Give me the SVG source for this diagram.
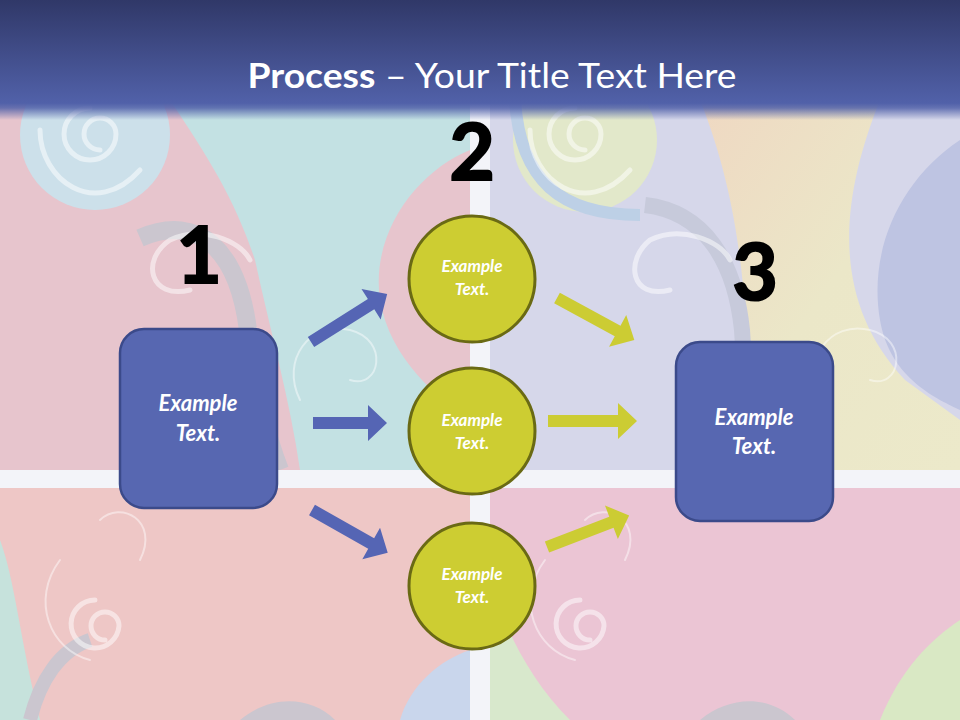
<svg xmlns="http://www.w3.org/2000/svg" width="960" height="720" viewBox="0 0 960 720">
<defs>
<style>
.box{fill:#5767b1;stroke:#3b4a8a;stroke-width:2.5}
.circ{fill:#cdcd32;stroke:#6a6a14;stroke-width:3}
.blue{fill:#5565b4}
.yel{fill:#cccc33}
.lbl{font-family:Lato,"Open Sans","DejaVu Sans",sans-serif;font-weight:700;font-style:italic;fill:#ffffff;text-anchor:middle}
.s15{font-size:17px}
.s20{font-size:22px}
.num{font-family:Lato,"Open Sans","DejaVu Sans",sans-serif;font-weight:700;font-size:78px;fill:#000000;stroke:#000000;stroke-width:2.2;text-anchor:middle}
.title{font-family:Lato,"Open Sans","DejaVu Sans",sans-serif;font-size:35px;fill:#ffffff;text-anchor:middle}
.swirl{fill:none;stroke:#ffffff;stroke-opacity:0.5;stroke-width:5;stroke-linecap:round}
.swirlthin{fill:none;stroke:#ffffff;stroke-opacity:0.45;stroke-width:2;stroke-linecap:round}
</style>
<linearGradient id="hdr" x1="0" y1="0" x2="0" y2="1">
<stop offset="0" stop-color="#303868"/>
<stop offset="0.86" stop-color="#5161a9"/>
<stop offset="0.9" stop-color="#5161a9" stop-opacity="0.85"/>
<stop offset="1" stop-color="#5161a9" stop-opacity="0"/>
</linearGradient>
<linearGradient id="yell" x1="0" y1="0" x2="1" y2="1">
<stop offset="0" stop-color="#efd8c2"/>
<stop offset="0.5" stop-color="#ebe7c8"/>
<stop offset="1" stop-color="#ece9ca"/>
</linearGradient>
<clipPath id="qtl"><rect x="0" y="100" width="470" height="370"/></clipPath>
<clipPath id="qtr"><rect x="490" y="100" width="470" height="370"/></clipPath>
<clipPath id="qbl"><rect x="0" y="488" width="470" height="232"/></clipPath>
<clipPath id="qbr"><rect x="490" y="488" width="470" height="232"/></clipPath>
</defs>

<g id="background">
<rect x="0" y="0" width="960" height="720" fill="#e8cbd4"/>
<g clip-path="url(#qtl)">
<rect x="0" y="100" width="470" height="370" fill="#e7c5cd"/>
<circle cx="95" cy="135" r="75" fill="#cce0ea"/>
<path d="M170 100 L470 100 L470 150 C420 170 370 230 380 300 C390 360 440 400 470 420 L470 470 L300 470 C290 400 270 330 255 260 C235 200 210 160 170 100 Z" fill="#c3e1e3"/>
<path d="M140 238 C200 212 238 252 248 330 C255 390 268 440 280 470" fill="none" stroke="#cbc6cf" stroke-width="18"/>
<path class="swirl" d="M100 150 A16 16 0 1 1 116 134 A26 26 0 1 1 90 108"/>
<path class="swirl" d="M140 170 C95 220 40 180 40 130"/>
<path class="swirl" d="M190 290 C150 300 140 260 170 240 C200 225 240 240 250 260"/>
<path class="swirlthin" d="M300 400 C280 360 310 320 350 330 C390 340 380 390 350 380"/>
</g>
<g clip-path="url(#qtr)">
<rect x="490" y="100" width="470" height="370" fill="#d6d7ea"/>
<circle cx="585" cy="140" r="72" fill="#e2e8ca"/>
<path d="M700 100 L880 100 C840 200 830 300 905 380 L960 420 L960 470 L760 470 C740 380 760 250 700 100 Z" fill="url(#yell)"/>
<path d="M960 140 C900 180 868 250 880 320 C890 380 940 400 960 410 Z" fill="#bec4e2"/>
<path d="M515 100 C520 180 560 215 640 215" fill="none" stroke="#bdd0e6" stroke-width="12"/>
<path d="M645 205 C705 212 735 262 742 330 C746 400 752 440 760 470" fill="none" stroke="#c7cadb" stroke-width="16"/>
<path class="swirl" d="M585 150 A16 16 0 1 1 601 134 A26 26 0 1 1 575 108"/>
<path class="swirl" d="M630 170 C585 220 530 180 530 130"/>
<path class="swirl" d="M670 290 C630 300 625 260 650 240 C680 225 720 240 730 260"/>
<path class="swirlthin" d="M820 400 C800 360 830 320 870 330 C910 340 900 390 870 380"/>
</g>
<g clip-path="url(#qbl)">
<rect x="0" y="488" width="470" height="232" fill="#eec7c6"/>
<path d="M0 540 C15 580 20 640 40 720 L0 720 Z" fill="#c6e2dc"/>
<path d="M30 720 C40 680 60 650 90 640" fill="none" stroke="#cbc6cf" stroke-width="14"/>
<path d="M400 720 C410 685 440 660 470 650 L470 720 Z" fill="#c9d6ec"/>
<path d="M240 720 C270 695 310 695 335 720 Z" fill="#cbc6cf"/>
<path class="swirl" d="M105 640 A14 14 0 1 1 119 626 A24 24 0 1 1 95 600"/>
<path class="swirlthin" d="M60 560 C30 600 50 650 90 660"/>
<path class="swirlthin" d="M140 560 C160 520 120 500 100 520"/>
</g>
<g clip-path="url(#qbr)">
<rect x="490" y="488" width="470" height="232" fill="#ebc5d4"/>
<path d="M490 580 C505 630 530 680 570 720 L490 720 Z" fill="#d8e8cc"/>
<path d="M880 720 C900 670 930 640 960 620 L960 720 Z" fill="#d9e8c4"/>
<path d="M700 720 C730 695 770 695 795 720 Z" fill="#cbc6cf"/>
<path class="swirl" d="M590 640 A14 14 0 1 1 604 626 A24 24 0 1 1 580 600"/>
<path class="swirlthin" d="M545 560 C515 600 535 650 575 660"/>
<path class="swirlthin" d="M625 560 C645 520 605 500 585 520"/>
</g>
<rect x="470" y="100" width="20" height="620" fill="#f3f4f9"/>
<rect x="0" y="470" width="960" height="18" fill="#f3f4f9"/>
</g>

<g id="header">
<rect x="0" y="0" width="960" height="120" fill="url(#hdr)"/>
<text class="title" x="492" y="88" textLength="489" lengthAdjust="spacingAndGlyphs"><tspan font-weight="700">Process</tspan> – Your Title Text Here</text>
</g>

<g id="connectors">
<polygon class="blue" transform="translate(311,342) rotate(-32.2)" points="0,-6 71,-6 71,-18 90,0 71,18 71,6 0,6"/>
<polygon class="blue" transform="translate(313,423)" points="0,-6 55,-6 55,-18 74,0 55,18 55,6 0,6"/>
<polygon class="blue" transform="translate(312,510) rotate(29.5)" points="0,-6 68,-6 68,-18 87,0 68,18 68,6 0,6"/>
<polygon class="yel" transform="translate(557,298) rotate(28.5)" points="0,-6 69,-6 69,-18 88,0 69,18 69,6 0,6"/>
<polygon class="yel" transform="translate(548,421)" points="0,-6 70,-6 70,-18 89,0 70,18 70,6 0,6"/>
<polygon class="yel" transform="translate(547,547) rotate(-21)" points="0,-6 69,-6 69,-18 88,0 69,18 69,6 0,6"/>
</g>

<g id="node-start">
<rect class="box" x="120" y="329" width="157" height="179" rx="24"/>
<text class="lbl s20" x="198" y="411">Example</text>
<text class="lbl s20" x="198" y="441">Text.</text>
</g>
<g id="node-mid-top">
<circle class="circ" cx="472" cy="279" r="63"/>
<text class="lbl s15" x="472" y="272">Example</text>
<text class="lbl s15" x="472" y="295">Text.</text>
</g>
<g id="node-mid-center">
<circle class="circ" cx="472" cy="431" r="63"/>
<text class="lbl s15" x="472" y="426">Example</text>
<text class="lbl s15" x="472" y="449">Text.</text>
</g>
<g id="node-mid-bottom">
<circle class="circ" cx="472" cy="586" r="63"/>
<text class="lbl s15" x="472" y="580">Example</text>
<text class="lbl s15" x="472" y="603">Text.</text>
</g>
<g id="node-end">
<rect class="box" x="676" y="342" width="157" height="179" rx="24"/>
<text class="lbl s20" x="754" y="425">Example</text>
<text class="lbl s20" x="754" y="454">Text.</text>
</g>

<g id="step-numbers">
<text class="num" x="199" y="283">1</text>
<text class="num" x="472" y="180">2</text>
<text class="num" x="755" y="300">3</text>
</g>
</svg>
